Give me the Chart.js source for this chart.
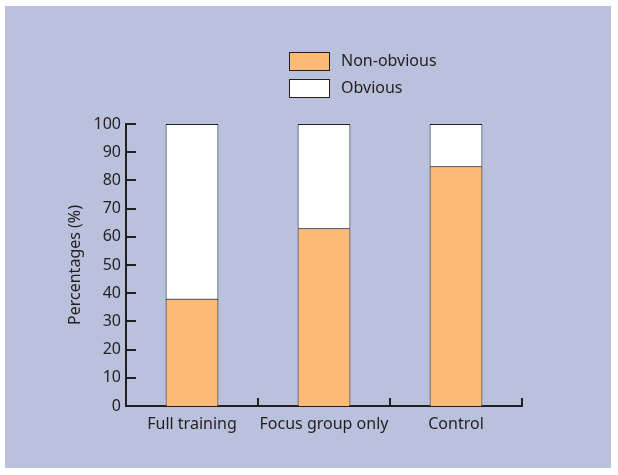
<!DOCTYPE html>
<html>
<head>
<meta charset="utf-8">
<script src="https://cdn.jsdelivr.net/npm/chart.js@4/dist/chart.umd.min.js"></script>
<style>
  html, body { margin: 0; padding: 0; background: #ffffff; }
  canvas { display: block; }
</style>
</head>
<body>
<canvas id="c" width="618" height="475"></canvas>
<script>
const categories = ['Full training', 'Focus group only', 'Control'];
const seriesNames = ['Non-obvious', 'Obvious'];
const nonObvious = [38, 63, 85];
const obvious = [62, 37, 15];
const yTicks = [0, 10, 20, 30, 40, 50, 60, 70, 80, 90, 100];

const INK = '#231f20';
const FONT = '"Noto Sans", "DejaVu Sans", sans-serif';

const panelPlugin = {
  id: 'panel',
  beforeDraw(chart) {
    const ctx = chart.ctx;
    ctx.save();
    ctx.fillStyle = '#b9c1dc';
    ctx.fillRect(5, 6, 606, 462);
    ctx.restore();
  }
};

const ticksPlugin = {
  id: 'innerTicks',
  afterDraw(chart) {
    const ctx = chart.ctx;
    const y = chart.scales.y, x = chart.scales.x;
    const area = chart.chartArea;
    ctx.save();
    ctx.strokeStyle = INK;
    ctx.lineWidth = 2;
    yTicks.forEach(v => {
      const py = Math.round(y.getPixelForValue(v));
      ctx.beginPath();
      ctx.moveTo(area.left, py);
      ctx.lineTo(area.left + 10, py);
      ctx.stroke();
    });
    const n = categories.length;
    for (let i = 0; i < n; i++) {
      const px = i < n - 1
        ? (x.getPixelForValue(i) + x.getPixelForValue(i + 1)) / 2
        : area.right;
      ctx.beginPath();
      ctx.moveTo(Math.round(px), area.bottom);
      ctx.lineTo(Math.round(px), area.bottom - 8);
      ctx.stroke();
    }
    ctx.restore();
  }
};

const legendPlugin = {
  id: 'customLegend',
  afterDraw(chart) {
    const ctx = chart.ctx;
    ctx.save();
    ctx.font = '16px ' + FONT;
    ctx.textBaseline = 'middle';
    chart.data.datasets.forEach((ds, i) => {
      const bx = 289, by = 52 + i * 27;
      ctx.fillStyle = ds.backgroundColor;
      ctx.fillRect(bx, by, 40, 18);
      ctx.strokeStyle = INK;
      ctx.lineWidth = 1;
      ctx.strokeRect(bx + 0.5, by + 0.5, 40, 18);
      ctx.fillStyle = INK;
      ctx.fillText(ds.label, 341, by + 9);
    });
    ctx.restore();
  }
};

new Chart(document.getElementById('c'), {
  type: 'bar',
  data: {
    labels: categories,
    datasets: [
      { label: seriesNames[0], data: nonObvious, backgroundColor: '#fbbb77', borderColor: INK, borderWidth: 1 },
      { label: seriesNames[1], data: obvious, backgroundColor: '#ffffff', borderColor: INK, borderWidth: 1 }
    ]
  },
  options: {
    responsive: false,
    animation: false,
    devicePixelRatio: 1,
    layout: { padding: { left: 62, top: 124, right: 96, bottom: 0 } },
    datasets: { bar: { categoryPercentage: 1, barPercentage: 0.4 } },
    plugins: { legend: { display: false }, tooltip: { enabled: false } },
    scales: {
      x: {
        stacked: true,
        grid: { display: false, drawTicks: false },
        border: { display: true, color: INK, width: 2 },
        ticks: { color: INK, font: { family: FONT, size: 16 }, padding: 9, maxRotation: 0 },
        afterFit(s) { s.height = 69; }
      },
      y: {
        stacked: true,
        min: 0, max: 100,
        grid: { display: false, drawTicks: false },
        border: { display: true, color: INK, width: 2 },
        ticks: { stepSize: 10, color: INK, font: { family: FONT, size: 16 }, padding: 5 },
        title: { display: true, text: 'Percentages (%)', color: INK, font: { family: FONT, size: 16 } },
        afterFit(s) { s.width = 64; }
      }
    }
  },
  plugins: [panelPlugin, ticksPlugin, legendPlugin]
});
</script>
</body>
</html>
